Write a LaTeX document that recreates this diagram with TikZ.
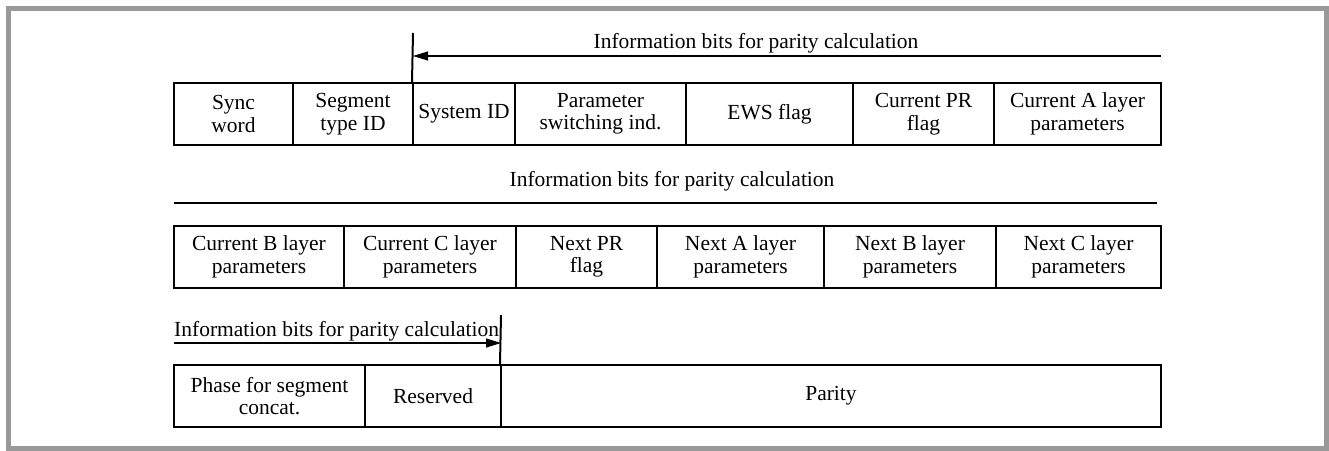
\documentclass[tikz,border=0pt]{standalone}
\usepackage{fontspec}
\setmainfont{Liberation Serif}
\usetikzlibrary{arrows.meta}

\begin{document}
\begin{tikzpicture}[x=1pt,y=-1pt,
  field/.style={draw,line width=2pt,minimum height=62pt,inner sep=0pt,align=center,
    font=\fontsize{21.5}{22.5}\selectfont},
  infolabel/.style={inner sep=0pt,font=\fontsize{21.5}{22.5}\selectfont},
  spanline/.style={line width=1.2pt},
  marker/.style={line width=2pt},
  tip/.style={-{Triangle[length=15pt,width=9pt]}}]
\useasboundingbox (0,0) rectangle (1329,450);
% Frame
\draw[black!40,line width=5pt] (8.5,8.5) rectangle (1326,448.5);

% First row
\node[field,minimum width=119pt] (sync) at (233.5,114) {Sync\\word};
\node[field,minimum width=120pt] (segtype) at (353,114) {Segment\\type ID};
\node[field,minimum width=102pt] (sysid) at (464,114) {System ID};
\node[field,minimum width=171pt] (switch) at (600.5,114) {Parameter\\switching ind.};
\node[field,minimum width=167pt] (ews) at (769.5,114) {EWS flag};
\node[field,minimum width=141pt] (curpr) at (923.5,114) {Current PR\\flag};
\node[field,minimum width=167pt] (cura) at (1077.5,114) {Current A layer\\parameters};
\node[infolabel,anchor=base] (lab1) at (756,48) {Information bits for parity calculation};
\coordinate (top1) at (413,33);
\coordinate (tail1) at (1161,56);
\draw[marker] (top1) -- (sysid.north west);
\draw[spanline,tip] (tail1) -- (tail1 -| top1);

% Second row
\node[infolabel,anchor=base] (lab2) at (672,186) {Information bits for parity calculation};
\coordinate (rule2a) at (174,203);
\coordinate (rule2b) at (1157,203);
\draw[spanline] (rule2a) -- (rule2b);
\node[field,minimum width=170pt] (curb) at (259,257) {Current B layer\\parameters};
\node[field,minimum width=172pt] (curc) at (430,257) {Current C layer\\parameters};
\node[field,minimum width=141pt] (nextpr) at (586.5,257) {Next PR\\flag};
\node[field,minimum width=167pt] (nexta) at (740.5,257) {Next A layer\\parameters};
\node[field,minimum width=172pt] (nextb) at (910,257) {Next B layer\\parameters};
\node[field,minimum width=165pt] (nextc) at (1078.5,257) {Next C layer\\parameters};

% Third row
\node[infolabel,anchor=base west] (lab3) at (174,336) {Information bits for parity calculation};
\node[field,minimum width=191pt] (phase) at (269.5,396) {Phase for segment\\concat.};
\node[field,minimum width=136pt] (reserved) at (433,396) {Reserved};
\node[field,minimum width=660pt] (parity) at (831,396) {Parity};
\coordinate (top3) at (501,315);
\coordinate (tail3) at (174,343);
\draw[marker] (top3) -- (parity.north west);
\draw[spanline,tip] (tail3) -- (tail3 -| top3);
\end{tikzpicture}
\end{document}
